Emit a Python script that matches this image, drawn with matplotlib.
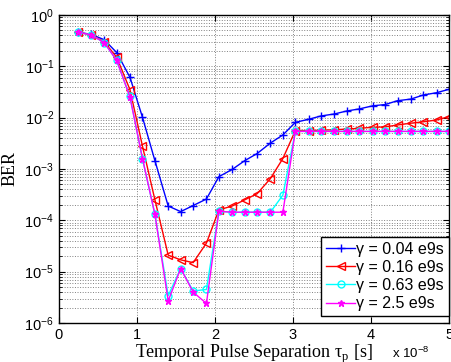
import matplotlib
matplotlib.use("Agg")
import matplotlib.pyplot as plt
from matplotlib.ticker import LogLocator, NullFormatter

plt.rcParams["font.family"] = ["Liberation Sans", "DejaVu Sans"]
plt.rcParams["mathtext.fontset"] = "custom"
plt.rcParams["mathtext.rm"] = "Liberation Sans"
plt.rcParams["mathtext.it"] = "Liberation Sans:italic"

# pulse separation, in units of 1e-8 s
tau = [0.25, 0.41, 0.58, 0.74, 0.91, 1.07, 1.23, 1.40, 1.56, 1.72,
       1.89, 2.05, 2.22, 2.38, 2.54, 2.71, 2.87, 3.03, 3.20, 3.36,
       3.53, 3.69, 3.85, 4.02, 4.18, 4.34, 4.51, 4.67, 4.84, 5.00]

ber_004 = [0.46, 0.42, 0.33, 0.185, 0.061, 0.0102, 1.45e-3, 1.9e-4, 1.48e-4, 1.94e-4,
           2.6e-4, 7.1e-4, 9.8e-4, 1.45e-3, 2.0e-3, 3.2e-3, 4.6e-3, 8.1e-3, 9.3e-3, 0.0108,
           0.0118, 0.0135, 0.0148, 0.017, 0.018, 0.0214, 0.023, 0.0276, 0.0306, 0.0357]

ber_016 = [0.46, 0.41, 0.30, 0.15, 0.035, 2.8e-3, 2.5e-4, 2.1e-5, 1.7e-5, 1.5e-5,
           3.6e-5, 1.6e-4, 1.9e-4, 2.5e-4, 3.3e-4, 6.5e-4, 1.6e-3, 5.6e-3, 5.6e-3, 5.7e-3,
           5.8e-3, 6.0e-3, 6.2e-3, 6.5e-3, 6.6e-3, 7.2e-3, 7.8e-3, 8.3e-3, 9.0e-3, 0.0105]

ber_063 = [0.46, 0.41, 0.29, 0.13, 0.026, 1.6e-3, 1.3e-4, 3.4e-6, 1.15e-5, 4.2e-6,
           4.5e-6, 1.5e-4, 1.44e-4, 1.44e-4, 1.44e-4, 1.44e-4, 3.1e-4, 5.4e-3, 5.4e-3, 5.4e-3,
           5.4e-3, 5.4e-3, 5.4e-3, 5.4e-3, 5.4e-3, 5.4e-3, 5.4e-3, 5.4e-3, 5.4e-3, 5.4e-3]

ber_25 = [0.46, 0.41, 0.29, 0.13, 0.025, 1.6e-3, 1.3e-4, 2.7e-6, 1.15e-5, 4.0e-6,
          2.4e-6, 1.5e-4, 1.44e-4, 1.44e-4, 1.44e-4, 1.44e-4, 1.44e-4, 5.4e-3, 5.4e-3, 5.4e-3,
          5.4e-3, 5.4e-3, 5.4e-3, 5.4e-3, 5.4e-3, 5.4e-3, 5.4e-3, 5.4e-3, 5.4e-3, 5.4e-3]

labels = ["γ = 0.04 e9s", "γ = 0.16 e9s", "γ = 0.63 e9s", "γ = 2.5 e9s"]

fig = plt.figure(figsize=(4.52, 3.62), dpi=100)
ax = fig.add_axes([0.1305, 0.1077, 0.8629, 0.8509])

ax.semilogy(tau, ber_004, color="#0000FF", lw=1, marker="+", ms=6, mew=1, label=labels[0])
ax.semilogy(tau, ber_016, color="#FF0000", lw=1, marker="<", ms=5.5, mfc="none", mew=1, label=labels[1])
ax.semilogy(tau, ber_063, color="#00FFFF", lw=1, marker="o", ms=5, mfc="none", mew=1, label=labels[2])
ax.semilogy(tau, ber_25, color="#FF00FF", lw=1, marker="*", ms=4.5, label=labels[3])

ax.set_xlim(0, 5)
ax.set_ylim(1e-6, 1)
ax.set_xticks([0, 1, 2, 3, 4, 5])
ax.yaxis.set_major_locator(LogLocator(base=10, numticks=10))
ax.yaxis.set_minor_locator(LogLocator(base=10, subs=range(2, 10), numticks=20))
ax.yaxis.set_minor_formatter(NullFormatter())

ax.grid(True, which="major", axis="both", ls=":", color="#808080", lw=0.7)
ax.grid(True, which="minor", axis="y", ls=":", color="#808080", lw=0.7)

ax.tick_params(which="both", direction="in", top=True, right=True, labelsize=10.5)
ax.tick_params(which="major", length=4)
ax.tick_params(which="minor", length=2)
for s in ax.spines.values():
    s.set_linewidth(1)

ax.set_xlabel("Temporal Pulse Separation τ$_\\mathregular{p}$ [s]",
              family="Liberation Serif", fontsize=13, labelpad=1)
ax.set_ylabel("BER", family="Liberation Serif", fontsize=13, labelpad=4)
fig.text(0.868, 0.012, "x 10$^{-8}$", fontsize=9.5)

leg = ax.legend(loc="lower right", bbox_to_anchor=(1.0, 0.023), fontsize=11.5,
                handlelength=1.8, handletextpad=0.1, borderpad=0.3, labelspacing=0.2,
                borderaxespad=0.0, fancybox=False, framealpha=1, edgecolor="black")
leg.get_frame().set_linewidth(1)

fig.savefig("out.png", dpi=100)
